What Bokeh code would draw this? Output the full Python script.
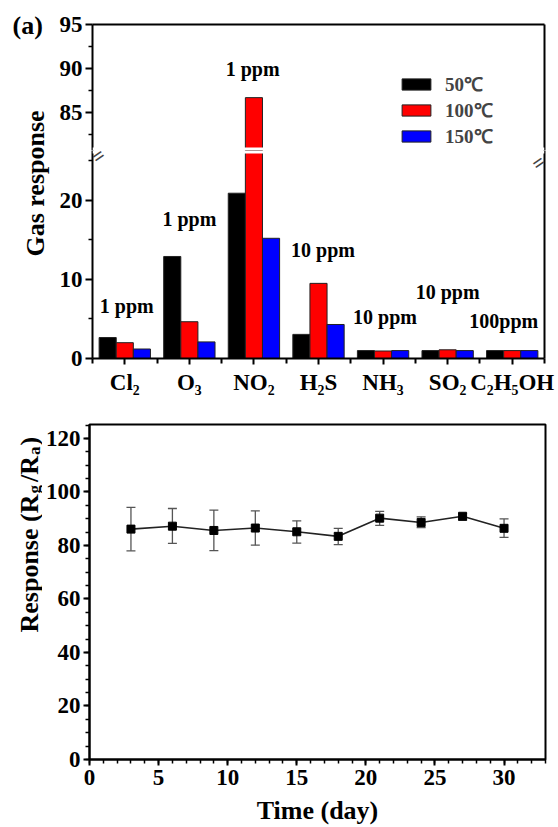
import numpy as np
from bokeh.plotting import figure
from bokeh.models import (Range1d, LinearAxis, FixedTicker, SingleIntervalTicker,
                          ColumnDataSource, Legend, LegendItem, Label, Whisker, TeeHead,
                          BoxAnnotation)
from bokeh.layouts import column, row
from bokeh.embed import file_html
from bokeh.resources import INLINE
from bokeh.core.properties import value

# ---------------- data: panel (a) ----------------
gases = ["Cl₂", "O₃", "NO₂", "H₂S", "NH₃", "SO₂", "C₂H₅OH"]
temps = ["50℃", "100℃", "150℃"]
resp_50 = [2.65, 12.9, 20.9, 3.05, 1.0, 1.0, 1.0]
resp_100 = [2.0, 4.65, 86.7, 9.5, 0.95, 1.1, 1.0]
resp_150 = [1.2, 2.1, 15.2, 4.3, 1.0, 1.0, 1.0]
conc_text = ["1 ppm", "1 ppm", "1 ppm", "10 ppm", "10 ppm", "10 ppm", "100ppm"]
# label anchor positions (layout, not data)
conc_pos_x = [1.03, 2.0, 2.98, 4.07, 5.03, 6.0, 6.87]
conc_pos_y = [6.6, 17.6, 90.0, 13.7, 5.2, 8.4, 4.7]

# broken axis segments
lower_seg = (0, 26.3)
upper_seg = (80.7, 95.0)

# ---------------- data: panel (b) ----------------
days = [3, 6, 9, 12, 15, 18, 21, 24, 27, 30]
response = [86.1, 87.2, 85.6, 86.5, 85.1, 83.4, 90.2, 88.6, 90.9, 86.4]
err_hi = [94.2, 93.8, 93.2, 92.9, 89.2, 86.4, 92.7, 90.7, 91.9, 89.9]
err_lo = [78.0, 80.8, 78.1, 80.1, 80.9, 80.3, 87.5, 86.7, 89.5, 83.0]

FONT = "Liberation Serif"
TICK_FS = "23px"
STRIP_A = 50
STRIP_B = 42
colors = ["#000000", "#ff0000", "#0000ff"]


def style_axis(ax, size=TICK_FS):
    ax.major_label_text_font = FONT
    ax.major_label_text_font_style = "bold"
    ax.major_label_text_font_size = size
    ax.major_label_text_color = "black"
    ax.axis_line_width = 2
    ax.axis_line_color = "black"
    ax.major_tick_line_width = 2
    ax.minor_tick_line_width = 1.5
    ax.major_tick_in = 0
    ax.minor_tick_in = 0
    ax.major_tick_out = 7
    ax.minor_tick_out = 4
    ax.major_label_standoff = 3


def line_axis(ax):
    ax.ticker = FixedTicker(ticks=[])
    ax.major_tick_out = 0
    ax.major_tick_in = 0
    ax.minor_tick_out = 0
    ax.minor_tick_in = 0
    ax.major_label_text_font_size = "0px"
    ax.major_label_standoff = 0
    ax.axis_line_width = 2
    ax.axis_line_color = "black"


def strip_fig(w, h):
    s = figure(width=w, height=h, x_range=Range1d(0, 1), y_range=Range1d(0, 1),
               x_axis_location=None, y_axis_location=None, toolbar_location=None,
               output_backend="svg", min_border=0)
    s.outline_line_color = None
    s.grid.visible = False
    return s


def txt_label(txt, x, y, size, **kw):
    return Label(x=x, y=y, x_units="screen", y_units="screen", text=txt,
                 text_font=FONT, text_font_style="bold", text_font_size=size,
                 text_color="black", **kw)


xs = list(range(1, len(gases) + 1))
bw = 0.265
offsets = [-bw, 0.0, bw]
series = [resp_50, resp_100, resp_150]
xr = Range1d(0.5, len(gases) + 0.5)


def make_bars(p, seg):
    rs = []
    for vals, off, col in zip(series, offsets, colors):
        src = ColumnDataSource(dict(x=[x + off for x in xs], top=vals))
        r = p.vbar(x="x", top="top", bottom=0, width=bw, source=src,
                   fill_color=col, line_color="#222222", line_width=1)
        rs.append(r)
    # concentration notes that fall inside this axis segment
    keep = [i for i, y in enumerate(conc_pos_y) if seg[0] <= y <= seg[1]]
    src = ColumnDataSource(dict(x=[conc_pos_x[i] for i in keep],
                                y=[conc_pos_y[i] for i in keep],
                                t=[conc_text[i] for i in keep]))
    p.text(x="x", y="y", text="t", source=src, text_align="center",
           text_baseline="middle", text_font=value(FONT), text_font_style="bold",
           text_font_size="20px", text_color="black")
    return rs


common = dict(toolbar_location=None, output_backend="svg",
              x_axis_location=None, y_axis_location=None)

BREAK_PX = 3  # half height of white break band, pixels
H1_FRAME = 126
H2_FRAME = 208
WA = 558 - STRIP_A

# ---- upper segment of (a)
pa1 = figure(width=WA, height=24 + H1_FRAME, x_range=xr, y_range=Range1d(*upper_seg),
             min_border_left=42, min_border_right=14, min_border_top=24,
             min_border_bottom=0, **common)
pa1.outline_line_color = None
pa1.grid.visible = False
ax = LinearAxis(ticker=FixedTicker(ticks=[85, 90, 95], minor_ticks=[82.5, 87.5, 92.5]))
style_axis(ax)
pa1.add_layout(ax, "left")
ax = LinearAxis()
line_axis(ax)
pa1.add_layout(ax, "above")
ax = LinearAxis()
line_axis(ax)
pa1.add_layout(ax, "right")
rs_up = make_bars(pa1, upper_seg)
u_ppu = H1_FRAME / (upper_seg[1] - upper_seg[0])
pa1.add_layout(BoxAnnotation(bottom=upper_seg[0], top=upper_seg[0] + BREAK_PX / u_ppu,
                             fill_color="white", fill_alpha=1, line_alpha=0))
legend = Legend(items=[LegendItem(label=t, renderers=[r]) for t, r in zip(temps, rs_up)],
                location=(306, 1), padding=0, margin=0, spacing=0,
                glyph_width=36, glyph_height=14, label_standoff=11,
                label_text_font=FONT, label_text_font_style="bold",
                label_text_font_size="19px", label_height=20,
                background_fill_alpha=0, border_line_alpha=0)
pa1.add_layout(legend, "center")

# ---- lower segment of (a)
pa2 = figure(width=WA, height=H2_FRAME + 42, x_range=xr, y_range=Range1d(*lower_seg),
             min_border_left=42, min_border_right=14, min_border_top=0,
             min_border_bottom=42, **common)
pa2.outline_line_color = None
pa2.grid.visible = False
ax = LinearAxis(ticker=FixedTicker(ticks=[0, 10, 20], minor_ticks=[5, 15, 25]))
style_axis(ax)
pa2.add_layout(ax, "left")
axx = LinearAxis(ticker=FixedTicker(ticks=xs, minor_ticks=[x - 0.5 for x in xs] + [xs[-1] + 0.5]),
                 major_label_overrides={x: g for x, g in zip(xs, gases)})
style_axis(axx)
axx.major_tick_out = 6
axx.minor_tick_out = 5
axx.minor_tick_line_width = 2
axx.major_label_standoff = 5
pa2.add_layout(axx, "below")
ax = LinearAxis()
line_axis(ax)
pa2.add_layout(ax, "right")
make_bars(pa2, lower_seg)
l_ppu = H2_FRAME / (lower_seg[1] - lower_seg[0])
pa2.add_layout(BoxAnnotation(bottom=lower_seg[1] - BREAK_PX / l_ppu, top=lower_seg[1],
                             fill_color="white", fill_alpha=1, line_alpha=0))

# axis-break marks just inside the lower segment
for xb, al, xo in ((xr.start, "left", 1), (xr.end, "right", -1)):
    pa2.add_layout(Label(x=xb, y=lower_seg[1], x_offset=xo, y_offset=-9, text="=",
                         angle=35, angle_units="deg", text_align=al,
                         text_baseline="middle", text_font=FONT,
                         text_font_style="bold", text_font_size="21px"))

# ---- label strip for (a)
sa = strip_fig(STRIP_A, 24 + H1_FRAME + H2_FRAME + 42)
sa.add_layout(txt_label("(a)", 12, sa.height - 25, "26px", text_baseline="middle"))
sa.add_layout(txt_label("Gas response", 35, sa.height - 183, "26px", angle=90,
                        angle_units="deg", text_align="center", text_baseline="middle"))

# ---- panel (b)
pb = figure(width=558 - STRIP_B, height=427, x_range=Range1d(0, 33), y_range=Range1d(0, 125.2),
            min_border_left=44, min_border_right=13, min_border_top=24,
            min_border_bottom=67, **common)
pb.outline_line_color = "black"
pb.outline_line_width = 2
pb.grid.visible = False
axb_y = LinearAxis(ticker=SingleIntervalTicker(interval=20, num_minor_ticks=4))
style_axis(axb_y)
axb_y.major_tick_out = 6
axb_y.minor_tick_out = 4
pb.add_layout(axb_y, "left")
axb_x = LinearAxis(ticker=SingleIntervalTicker(interval=5, num_minor_ticks=5),
                   axis_label="Time (day)")
style_axis(axb_x)
axb_x.major_tick_out = 6
axb_x.minor_tick_out = 4
axb_x.major_label_standoff = 4
axb_x.axis_label_text_font = FONT
axb_x.axis_label_text_font_style = "bold"
axb_x.axis_label_text_font_size = "26px"
axb_x.axis_label_text_color = "black"
axb_x.axis_label_standoff = 8
pb.add_layout(axb_x, "below")

bsrc = ColumnDataSource(dict(day=days, r=response, hi=err_hi, lo=err_lo))
pb.add_layout(Whisker(source=bsrc, base="day", upper="hi", lower="lo",
                      line_color="#555555", line_width=1.3,
                      upper_head=TeeHead(size=9, line_color="#555555", line_width=1.3),
                      lower_head=TeeHead(size=9, line_color="#555555", line_width=1.3)))
pb.line(x="day", y="r", source=bsrc, line_color="#222222", line_width=1.6)
pb.scatter(x="day", y="r", source=bsrc, marker="square", size=8,
           fill_color="black", line_color="black")

# ---- label strip for (b)
sb = strip_fig(STRIP_B, 427)
sb.add_layout(txt_label("(b)", 12, 427 - 8, "26px", text_baseline="middle"))
# composite y-axis title: Response (R_g /R_a)
main_fs, sub_fs = 26, 17
xb0, xs0 = 29, 34
yy = 127
pieces = [("Response (R", main_fs, xb0, 5.305 * main_fs + 1),
          ("g", sub_fs, xs0, 0.5 * sub_fs + 3),
          ("/R", main_fs, xb0, 1.0 * main_fs + 1),
          ("a", sub_fs, xs0, 0.5 * sub_fs + 1),
          (")", main_fs, xb0, 0.333 * main_fs)]
for txt, fs, xx, adv in pieces:
    sb.add_layout(txt_label(txt, xx, yy, f"{fs}px", angle=90, angle_units="deg",
                            text_align="left", text_baseline="alphabetic"))
    yy += adv

layout = column(row(sa, column(pa1, pa2, spacing=0), spacing=0),
                row(sb, pb, spacing=0), spacing=0)
open("out.html", "w").write(file_html(layout, INLINE))
